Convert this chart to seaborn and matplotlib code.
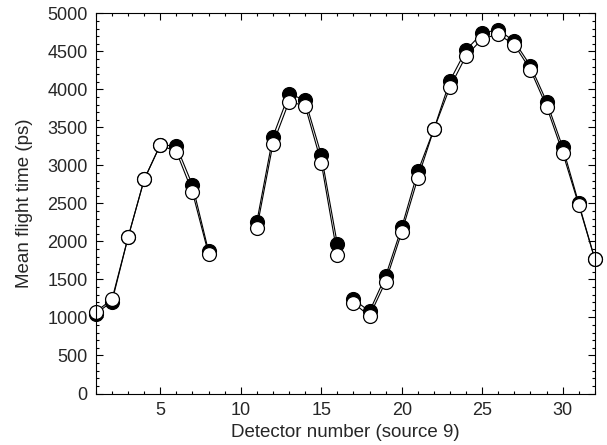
import numpy as np
import pandas as pd
import matplotlib
matplotlib.use("Agg")
import matplotlib.pyplot as plt
from matplotlib.ticker import MultipleLocator
import seaborn as sns

# detector numbers, grouped in the three measured runs
detectors = [1, 2, 3, 4, 5, 6, 7, 8,
             11, 12, 13, 14, 15, 16,
             17, 18, 19, 20, 21, 22, 23, 24, 25, 26, 27, 28, 29, 30, 31, 32]
segment = [0] * 8 + [1] * 6 + [2] * 16

# filled circles
time_filled = [1050, 1210, 2055, 2815, 3270, 3255, 2740, 1870,
               2260, 3380, 3940, 3860, 3140, 1965,
               1240, 1080, 1545, 2185, 2920, 3476, 4115, 4520, 4740, 4785,
               4630, 4310, 3840, 3240, 2500, 1766]
# open circles
time_open = [1076, 1239, 2055, 2815, 3270, 3180, 2647, 1835,
             2174, 3283, 3840, 3783, 3037, 1822,
             1190, 1020, 1471, 2121, 2832, 3476, 4030, 4441, 4664, 4726,
             4586, 4257, 3774, 3168, 2480, 1766]

df_filled = pd.DataFrame({"det": detectors, "t": time_filled, "seg": segment})
df_open = pd.DataFrame({"det": detectors, "t": time_open, "seg": segment})

sns.set_style("ticks")
plt.rcParams["font.family"] = ["Liberation Sans", "DejaVu Sans"]

fig = plt.figure(figsize=(6.07, 4.45), dpi=100)
ax = fig.add_axes([0.158, 0.1157, 0.822, 0.8543])

common = dict(x="det", y="t", units="seg", estimator=None, color="black",
              linewidth=0.8, marker="o", markersize=10,
              markeredgecolor="black", markeredgewidth=0.9, legend=False,
              clip_on=False)
sns.lineplot(data=df_filled, ax=ax, markerfacecolor="black", **common)
sns.lineplot(data=df_open, ax=ax, markerfacecolor="white", **common)

ax.set_xlim(1, 32)
ax.set_ylim(0, 5000)
ax.xaxis.set_major_locator(MultipleLocator(5))
ax.xaxis.set_minor_locator(MultipleLocator(1))
ax.yaxis.set_major_locator(MultipleLocator(500))
ax.yaxis.set_minor_locator(MultipleLocator(100))
ax.tick_params(which="both", direction="in", top=True, right=True,
               labelsize=13, color="black", width=0.8, pad=6)
ax.tick_params(which="major", length=5)
ax.tick_params(which="minor", length=2.5)
for sp in ax.spines.values():
    sp.set_visible(True)
    sp.set_color("black")
    sp.set_linewidth(0.8)

ax.set_xlabel("Detector number (source 9)", fontsize=13.5, labelpad=4)
ax.set_ylabel("Mean flight time (ps)", fontsize=13.5, labelpad=10)

fig.savefig("out.png", dpi=100)
